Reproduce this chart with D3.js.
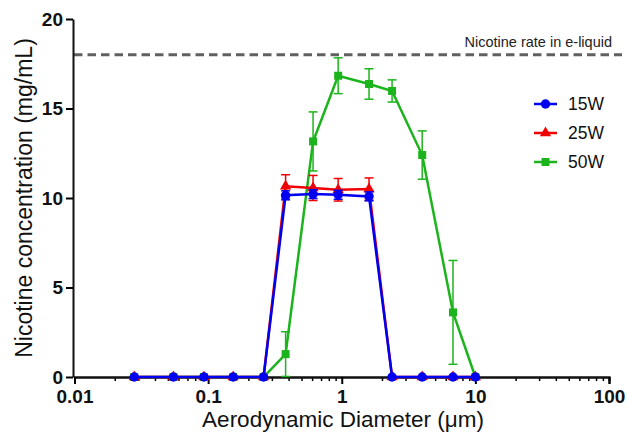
<!DOCTYPE html>
<html>
<head>
<meta charset="utf-8">
<script src="https://cdn.jsdelivr.net/npm/d3@7"></script>
<style>
  body { margin: 0; background: #fff; }
  svg { display: block; font-family: "Liberation Sans", Arial, sans-serif; }
</style>
</head>
<body>
<svg id="chart" width="628" height="436"></svg>
<script>
// stage diameters (um) and nicotine per stage
const diameters = [0.028, 0.055, 0.093, 0.154, 0.26, 0.38, 0.61, 0.94, 1.6, 2.38, 4.0, 6.8, 10];
const w15 = [0, 0, 0, 0, 0, 10.15, 10.22, 10.18, 10.09, 0, 0, 0, 0];
const w15Err = [0, 0, 0, 0, 0, 0.25, 0.25, 0.25, 0.25, 0, 0, 0, 0];
const w25 = [0, 0, 0, 0, 0, 10.65, 10.56, 10.46, 10.5, 0, 0, 0, 0];
const w25Err = [0, 0, 0, 0, 0, 0.65, 0.7, 0.63, 0.62, 0, 0, 0, 0];
const w50 = [0, 0, 0, 0, 0, 1.28, 13.16, 16.83, 16.37, 15.98, 12.4, 3.61, 0];
const w50Err = [0, 0, 0, 0, 0, 1.25, 1.65, 1.0, 0.85, 0.62, 1.35, 2.9, 0];
const seriesNames = ['15W', '25W', '50W'];
const xTicks = [0.01, 0.1, 1, 10, 100];
const yTicks = [0, 5, 10, 15, 20];
const eliquidRate = 18.0;
const refLabel = 'Nicotine rate in e-liquid';

const svg = d3.select('#chart');
const x = d3.scaleLog().domain([0.01, 100]).range([74.5, 609]);
const y = d3.scaleLinear().domain([0, 20]).range([377, 19]);

const series = [
  { name: seriesNames[2], vals: w50, err: w50Err, color: '#1cb41c', shape: d3.symbolSquare, size: 64 },
  { name: seriesNames[1], vals: w25, err: w25Err, color: '#f00000', shape: d3.symbolTriangle, size: 55 },
  { name: seriesNames[0], vals: w15, err: w15Err, color: '#0000f0', shape: d3.symbolCircle, size: 70 }
];

// reference line
svg.append('line')
  .attr('x1', 74).attr('x2', 622)
  .attr('y1', y(eliquidRate)).attr('y2', y(eliquidRate))
  .attr('stroke', '#606060').attr('stroke-width', 3)
  .attr('stroke-dasharray', '8.5,5');
svg.append('text')
  .attr('x', 612).attr('y', 47)
  .attr('text-anchor', 'end')
  .attr('font-size', 14.5).attr('fill', '#222')
  .text(refLabel);

// axes
const minor = [];
[0.01, 0.1, 1, 10].forEach(d => { for (let k = 2; k < 10; k++) minor.push(d * k); });

const gx = svg.append('g').attr('transform', `translate(0,${y(0)})`);
gx.call(d3.axisBottom(x).tickValues(minor).tickSize(4).tickFormat(''));
gx.call(g => g.selectAll('.tick line').attr('stroke-width', 1.5));
const gxMajor = svg.append('g').attr('transform', `translate(0,${y(0)})`)
  .call(d3.axisBottom(x).tickValues(xTicks).tickSize(7).tickPadding(6).tickFormat(d => String(d)));
gxMajor.selectAll('.tick line').attr('stroke-width', 2);
gxMajor.selectAll('.tick text').attr('font-size', 19).attr('font-weight', 'bold').attr('fill', '#111')
  .attr('font-family', '"Liberation Sans", Arial, sans-serif');
svg.selectAll('.domain').attr('stroke-width', 2).attr('stroke', '#111');

const gy = svg.append('g').attr('transform', `translate(73,0)`)
  .call(d3.axisLeft(y).tickValues(yTicks).tickSize(7).tickPadding(3).tickSizeOuter(0));
gy.select('.domain').attr('stroke-width', 2).attr('stroke', '#111');
gy.selectAll('.tick line').attr('stroke-width', 2);
gy.selectAll('.tick text').attr('font-size', 19).attr('font-weight', 'bold').attr('fill', '#111')
  .attr('font-family', '"Liberation Sans", Arial, sans-serif');

// axis titles
svg.append('text')
  .attr('x', 343).attr('y', 427)
  .attr('text-anchor', 'middle').attr('font-size', 22.5).attr('fill', '#111')
  .text('Aerodynamic Diameter (μm)');
svg.append('text')
  .attr('transform', 'translate(32,198) rotate(-90)')
  .attr('text-anchor', 'middle').attr('font-size', 23).attr('fill', '#111')
  .text('Nicotine concentration (mg/mL)');

// series
const line = d3.line().x(d => x(d[0])).y(d => y(d[1]));
series.forEach(s => {
  const pts = diameters.map((d, i) => [d, s.vals[i], s.err[i]]);
  const g = svg.append('g');
  // error bars
  pts.filter(p => p[2] > 0).forEach(p => {
    const cx = x(p[0]);
    const lo = Math.max(0, p[1] - p[2]), hi = p[1] + p[2];
    const eb = g.append('g').attr('stroke', s.color).attr('stroke-width', 1.5);
    eb.append('line').attr('x1', cx).attr('x2', cx).attr('y1', y(lo)).attr('y2', y(hi));
    eb.append('line').attr('x1', cx - 4.5).attr('x2', cx + 4.5).attr('y1', y(hi)).attr('y2', y(hi));
    eb.append('line').attr('x1', cx - 4.5).attr('x2', cx + 4.5).attr('y1', y(lo)).attr('y2', y(lo));
  });
  g.append('path').datum(pts)
    .attr('d', line).attr('fill', 'none')
    .attr('stroke', s.color).attr('stroke-width', 2.5);
  g.selectAll('path.pt').data(pts).enter().append('path')
    .attr('class', 'pt')
    .attr('transform', d => `translate(${x(d[0])},${y(d[1])})`)
    .attr('d', d3.symbol().type(s.shape).size(s.size))
    .attr('fill', s.color);
});

// legend
const legend = [series[2], series[1], series[0]];
legend.forEach((s, i) => {
  const ly = 104 + i * 29;
  const g = svg.append('g').attr('transform', `translate(0,${ly})`);
  g.append('line').attr('x1', 534).attr('x2', 557).attr('y1', 0).attr('y2', 0)
    .attr('stroke', s.color).attr('stroke-width', 2.5);
  g.append('path').attr('transform', 'translate(545.5,0)')
    .attr('d', d3.symbol().type(s.shape).size(s.size)).attr('fill', s.color);
  g.append('text').attr('x', 568).attr('y', 0).attr('dy', '0.36em')
    .attr('font-size', 17.5).attr('fill', '#111').text(s.name);
});
</script>
</body>
</html>
